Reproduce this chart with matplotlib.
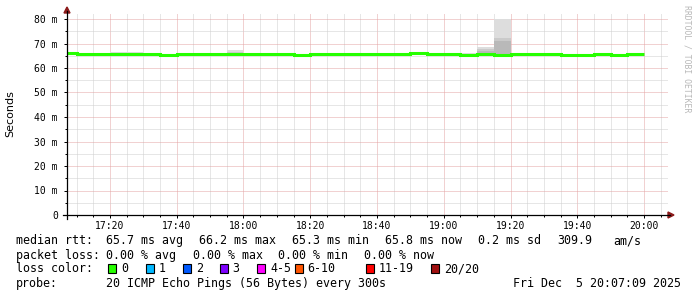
import matplotlib
matplotlib.use("Agg")
import matplotlib.pyplot as plt
from matplotlib.patches import Rectangle, Polygon
from matplotlib.lines import Line2D

W, H = 697, 297

# bins: minutes after 17:00, each 5 min wide (start of bin)
bin_start = [5, 10, 15, 20, 25, 30, 35, 40, 45, 50, 55, 60, 65, 70, 75, 80, 85, 90,
             95, 100, 105, 110, 115, 120, 125, 130, 135, 140, 145, 150, 155, 160,
             165, 170, 175]
# median rtt (ms)
median = [66.0, 65.6, 65.6, 65.7, 65.8, 65.8, 65.2, 65.7, 65.7, 65.7, 65.8, 65.9,
          65.9, 65.9, 65.2, 65.6, 65.6, 65.8, 65.6, 65.7, 65.8, 66.3, 65.9, 65.6,
          65.2, 65.9, 65.2, 65.6, 65.8, 65.8, 65.3, 65.3, 65.8, 65.5, 65.8]
# smoke: outer max, middle band top, inner band top (ms)
smoke_max = [66.3, 66.0, 66.0, 66.4, 66.4, 66.2, 65.9, 66.3, 66.0, 66.0, 67.3, 66.2,
             66.2, 66.2, 65.6, 65.9, 65.9, 66.1, 66.0, 66.2, 66.3, 66.6, 66.2, 65.9,
             66.1, 68.7, 79.9, 65.9, 66.1, 66.1, 65.7, 65.7, 66.1, 65.8, 66.1]
smoke_mid = [66.1, 65.8, 65.8, 66.0, 66.0, 66.0, 65.6, 66.0, 65.9, 65.9, 66.4, 66.1,
             66.1, 66.1, 65.4, 65.8, 65.8, 66.0, 65.8, 65.9, 66.0, 66.5, 66.1, 65.8,
             65.8, 67.6, 72.2, 65.8, 66.0, 66.0, 65.5, 65.5, 66.0, 65.7, 66.0]
smoke_in = [66.0, 65.7, 65.7, 65.8, 65.9, 65.9, 65.4, 65.8, 65.8, 65.8, 66.0, 66.0,
            66.0, 66.0, 65.3, 65.7, 65.7, 65.9, 65.7, 65.8, 65.9, 66.4, 66.0, 65.7,
            65.6, 66.8, 70.9, 65.7, 65.9, 65.9, 65.4, 65.4, 65.9, 65.6, 65.9]

y_ticks = [0, 10, 20, 30, 40, 50, 60, 70, 80]
y_labels = ["0", "10 m", "20 m", "30 m", "40 m", "50 m", "60 m", "70 m", "80 m"]
x_ticks = [20, 40, 60, 80, 100, 120, 140, 160, 180]
x_labels = ["17:20", "17:40", "18:00", "18:20", "18:40", "19:00", "19:20", "19:40", "20:00"]

rtt_items = ["median rtt:", "65.7 ms avg", "66.2 ms max", "65.3 ms min", "65.8 ms now",
             "0.2 ms sd", "309.9", "am/s"]
rtt_x = [15.5, 106.5, 199, 291.7, 385, 478.3, 557.3, 613.5]
loss_items = ["packet loss:", "0.00 % avg", "0.00 % max", "0.00 % min", "0.00 % now"]
loss_x = [15.5, 106.5, 192.7, 278.3, 364]

loss_labels = ["0", "1", "2", "3", "4-5", "6-10", "11-19", "20/20"]
loss_colors = ["#26ff00", "#00b8ff", "#0059ff", "#7e00ff", "#ff00ff", "#ff5500", "#ff0000", "#a01010"]
loss_box_x = [108.3, 145.7, 182.7, 219.7, 257, 294.7, 365.7, 430.7]

mono = "DejaVu Sans Mono"

fig = plt.figure(figsize=(W / 100, H / 100), dpi=100)
fig.patch.set_facecolor("white")

x0, x1, ytop, ybot = 67, 668, 13, 215
ax = fig.add_axes([x0 / W, 1 - ybot / H, (x1 - x0) / W, (ybot - ytop) / H])
ax.set_xlim(7.15, 187.15)
ax.set_ylim(0, (ybot - ytop) / 2.45)

# grid
grid_kw = dict(lw=0.72, ls=(0, (1, 1)), zorder=0)
for m in range(10, 190, 5):
    col = "#e4a4a4" if m % 20 == 0 else "#cfcfcf"
    ax.axvline(m, color=col, **grid_kw)
for v in range(5, 85, 5):
    col = "#e4a4a4" if v % 10 == 0 else "#cfcfcf"
    ax.axhline(v, color=col, **grid_kw)

edges = bin_start + [bin_start[-1] + 5]
lo = [m - 0.3 for m in median]
ax.stairs(smoke_max, edges, baseline=lo, fill=True, color="#dddddd", lw=0, zorder=2)
ax.stairs(smoke_mid, edges, baseline=lo, fill=True, color="#cacaca", lw=0, zorder=3)
ax.stairs(smoke_in, edges, baseline=lo, fill=True, color="#b9b9b9", lw=0, zorder=4)
ax.stairs(median, edges, baseline=None, color="#26ff00", lw=2.2, zorder=5)

for s in ax.spines.values():
    s.set_visible(False)
ax.set_xticks(x_ticks)
ax.set_xticklabels(x_labels, family=mono, fontsize=7)
ax.set_xticks(range(10, 190, 5), minor=True)
ax.set_yticks(y_ticks)
ax.set_yticklabels(y_labels, family=mono, fontsize=7)
ax.set_yticks(range(5, 85, 10), minor=True)
ax.tick_params(axis="both", which="major", length=2.5, width=0.72, direction="out", color="black")
ax.tick_params(axis="both", which="minor", length=1.5, width=0.72, direction="out", color="black")
ax.tick_params(axis="x", pad=1.5)
ax.tick_params(axis="y", pad=4)

# axis lines with arrows
def fx(px):
    return px / W

def fy(py):
    return 1 - py / H

fig.add_artist(Line2D([fx(63), fx(670)], [fy(215), fy(215)], color="black", lw=0.9))
fig.add_artist(Line2D([fx(67), fx(67)], [fy(219), fy(11)], color="black", lw=0.9))
fig.add_artist(Polygon([[fx(668), fy(212)], [fx(674), fy(215)], [fx(668), fy(218)]],
                       closed=True, color="#8b1a1a", transform=fig.transFigure))
fig.add_artist(Polygon([[fx(64), fy(13)], [fx(67), fy(7)], [fx(70), fy(13)]],
                       closed=True, color="#8b1a1a", transform=fig.transFigure))

fig.text(fx(10), fy(114), "Seconds", rotation=90, ha="center", va="center",
         fontsize=8, family="DejaVu Sans")
fig.text(fx(687), fy(5), "RRDTOOL / TOBI OETIKER", rotation=-90, ha="center", va="top",
         fontsize=5.9, family=mono, color="#b8b8b8")

# legend
lfs = 8.4
for txt, px in zip(rtt_items, rtt_x):
    fig.text(fx(px), fy(240.7), txt, va="center", ha="left", family=mono, fontsize=lfs)
for txt, px in zip(loss_items, loss_x):
    fig.text(fx(px), fy(255.3), txt, va="center", ha="left", family=mono, fontsize=lfs)
fig.text(fx(15.5), fy(269), "loss color:", va="center", ha="left", family=mono, fontsize=lfs)
for bx, lab, col in zip(loss_box_x, loss_labels, loss_colors):
    fig.add_artist(Rectangle((fx(bx), fy(272.7)), 8 / W, 8.3 / H, transform=fig.transFigure,
                             facecolor=col, edgecolor="black", lw=0.8))
    fig.text(fx(bx + 13), fy(269), lab, va="center", ha="left", family=mono, fontsize=lfs)
fig.text(fx(15.5), fy(283.3), "probe:", va="center", ha="left", family=mono, fontsize=lfs)
fig.text(fx(106.5), fy(283.3), "20 ICMP Echo Pings (56 Bytes) every 300s",
         va="center", ha="left", family=mono, fontsize=lfs)
fig.text(fx(681), fy(283.3), "Fri Dec  5 20:07:09 2025",
         va="center", ha="right", family=mono, fontsize=lfs)

fig.savefig("out.png", dpi=100, facecolor="white")
